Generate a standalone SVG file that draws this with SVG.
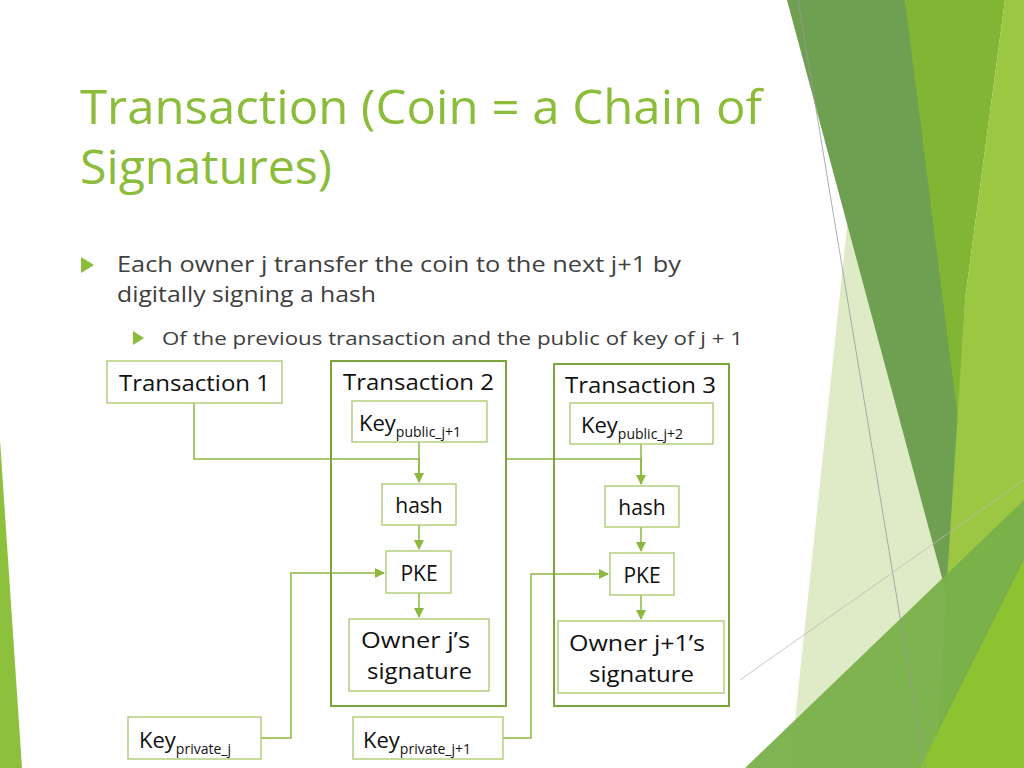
<svg xmlns="http://www.w3.org/2000/svg" width="1024" height="768" viewBox="0 0 1024 768">
<style>
.t{font-family:"Open Sans","Liberation Sans",sans-serif;fill:#111}
.b{fill:#fff;stroke:#a6c96a;stroke-width:1.3}
.o{fill:none;stroke:#7ba53a;stroke-width:2}
.c{fill:none;stroke:#8cb83e;stroke-width:1.5}
</style>
<defs><marker id="a" markerWidth="10" markerHeight="10" refX="9" refY="5" orient="auto" markerUnits="userSpaceOnUse"><path d="M0,0 L10,5 L0,10 z" fill="#8cb83e"/></marker></defs>
<rect width="1024" height="768" fill="#fff"/>
<g id="deco">
<polygon points="0,440 22,768 0,768" fill="#8dc03c"/>
<polygon points="853,170 955,560 930,768 790,768" fill="#dfeac6"/>
<polygon points="787,0 905,0 965,300 948,600" fill="#6f9f50"/>
<polygon points="905,0 1005,0 965,300 958,420" fill="#83b535"/>
<polygon points="1005,0 1024,0 1024,768 935,768 965,300" fill="#9bc742"/>
<polygon points="745,768 1024,500 1024,768" fill="#79b04a" opacity="0.95"/>
<polygon points="920,768 1024,560 1024,768" fill="#8fc230"/>
<line x1="798" y1="0" x2="925" y2="768" stroke="#999" stroke-width="0.8"/>
<line x1="740" y1="680" x2="1024" y2="480" stroke="#bbb" stroke-width="0.8"/>
</g>
<text x="80" y="124" font-family="'Open Sans','Liberation Sans',sans-serif" font-size="47" fill="#8bbd3a" textLength="682" lengthAdjust="spacingAndGlyphs">Transaction (Coin = a Chain of</text>
<text x="80" y="184" font-family="'Open Sans','Liberation Sans',sans-serif" font-size="47" fill="#8bbd3a" textLength="252" lengthAdjust="spacingAndGlyphs">Signatures)</text>
<polygon points="81,257 94,265 81,273" fill="#8bbd3a"/>
<text x="117" y="272" font-family="'Open Sans','Liberation Sans',sans-serif" font-size="21" fill="#404040" textLength="564" lengthAdjust="spacingAndGlyphs">Each owner j transfer the coin to the next j+1 by</text>
<text x="117" y="302" font-family="'Open Sans','Liberation Sans',sans-serif" font-size="21" fill="#404040" textLength="259" lengthAdjust="spacingAndGlyphs">digitally signing a hash</text>
<polygon points="133,331 144,338 133,345" fill="#8bbd3a"/>
<text x="162" y="345" font-family="'Open Sans','Liberation Sans',sans-serif" font-size="19" fill="#404040" textLength="581" lengthAdjust="spacingAndGlyphs">Of the previous transaction and the public of key of j + 1</text>
<g id="connectors">
<polyline class="c" points="194,403 194,459 419,459 419,482" marker-end="url(#a)"/>
<line class="c" x1="419" y1="442" x2="419" y2="482"/>
<polyline class="c" points="506,459 641,459 641,484" marker-end="url(#a)"/>
<line class="c" x1="641" y1="444" x2="641" y2="484"/>
<line class="c" x1="419" y1="525" x2="419" y2="549" marker-end="url(#a)"/>
<line class="c" x1="641" y1="527" x2="641" y2="551" marker-end="url(#a)"/>
<line class="c" x1="419" y1="593" x2="419" y2="617" marker-end="url(#a)"/>
<line class="c" x1="641" y1="595" x2="641" y2="619" marker-end="url(#a)"/>
<polyline class="c" points="261,738 291,738 291,573 384,573" marker-end="url(#a)"/>
<polyline class="c" points="503,738 531,738 531,574 608,574" marker-end="url(#a)"/>
</g>
<g id="t1"><rect class="b" x="107" y="361" width="175" height="42"/><text class="t" x="119" y="391" font-size="21" textLength="151" lengthAdjust="spacingAndGlyphs">Transaction 1</text></g>
<g id="t2"><rect class="o" x="331" y="361" width="175" height="345"/><text class="t" x="343" y="390" font-size="21" textLength="151" lengthAdjust="spacingAndGlyphs">Transaction 2</text></g>
<g id="t3"><rect class="o" x="554" y="364" width="175" height="342"/><text class="t" x="565" y="393" font-size="21" textLength="151" lengthAdjust="spacingAndGlyphs">Transaction 3</text></g>
<g id="kp1"><rect class="b" x="352" y="401" width="135" height="41"/><text class="t" x="359" y="431" font-size="22">Key<tspan font-size="14" dy="6">public_j+1</tspan></text></g>
<g id="kp2"><rect class="b" x="570" y="403" width="143" height="41"/><text class="t" x="581" y="433" font-size="22">Key<tspan font-size="14" dy="6">public_j+2</tspan></text></g>
<g id="h1"><rect class="b" x="382" y="484" width="74" height="41"/><text class="t" x="419" y="513" font-size="21" text-anchor="middle">hash</text></g>
<g id="h2"><rect class="b" x="605" y="486" width="74" height="41"/><text class="t" x="642" y="515" font-size="21" text-anchor="middle">hash</text></g>
<g id="p1"><rect class="b" x="386" y="551" width="65" height="42"/><text class="t" x="419" y="581" font-size="21" text-anchor="middle">PKE</text></g>
<g id="p2"><rect class="b" x="610" y="553" width="64" height="42"/><text class="t" x="642" y="583" font-size="21" text-anchor="middle">PKE</text></g>
<g id="s1"><rect class="b" x="349" y="619" width="140" height="72"/><text class="t" x="361" y="648" font-size="21" textLength="109" lengthAdjust="spacingAndGlyphs">Owner j’s</text><text class="t" x="367" y="679" font-size="21" textLength="105" lengthAdjust="spacingAndGlyphs">signature</text></g>
<g id="s2"><rect class="b" x="558" y="621" width="166" height="72"/><text class="t" x="569" y="651" font-size="21" textLength="136" lengthAdjust="spacingAndGlyphs">Owner j+1’s</text><text class="t" x="589" y="682" font-size="21" textLength="105" lengthAdjust="spacingAndGlyphs">signature</text></g>
<g id="kv1"><rect class="b" x="128" y="717" width="133" height="42"/><text class="t" x="139" y="748" font-size="22">Key<tspan font-size="14" dy="6">private_j</tspan></text></g>
<g id="kv2"><rect class="b" x="353" y="717" width="150" height="42"/><text class="t" x="363" y="748" font-size="22">Key<tspan font-size="14" dy="6">private_j+1</tspan></text></g>
</svg>
